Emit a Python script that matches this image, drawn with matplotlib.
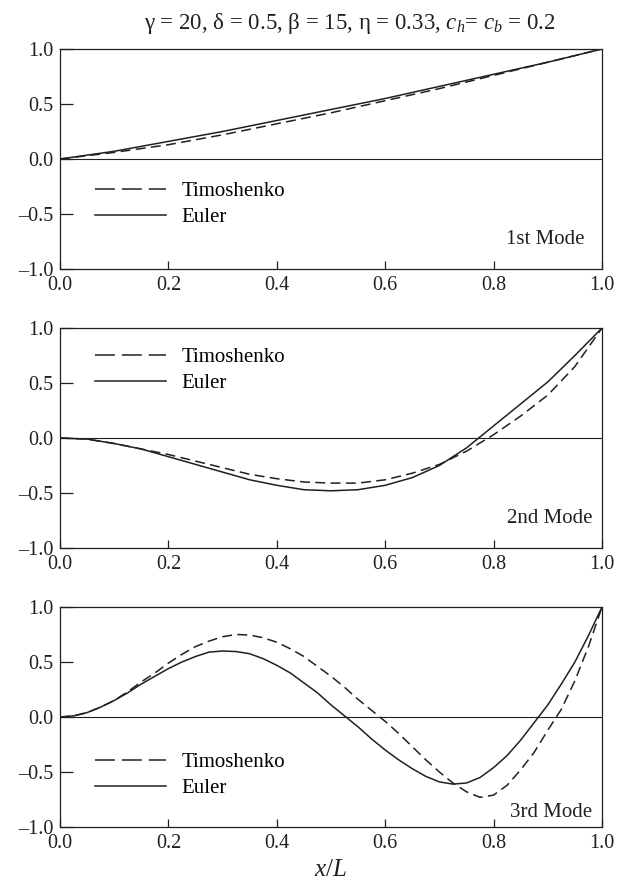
import matplotlib
matplotlib.use("Agg")
import matplotlib.pyplot as plt
from matplotlib.lines import Line2D

plt.rcParams['font.family'] = ['Liberation Serif', 'DejaVu Serif']
plt.rcParams['mathtext.fontset'] = 'custom'
plt.rcParams['mathtext.rm'] = 'Liberation Serif'
plt.rcParams['mathtext.it'] = 'Liberation Serif:italic'

# Mode 1
x1 = [0.0, 0.1, 0.2, 0.3, 0.4, 0.5, 0.6, 0.7, 0.8, 0.9, 1.0]
euler1 = [0.0, 0.07, 0.16, 0.25, 0.35, 0.45, 0.55, 0.66, 0.77, 0.88, 1.0]
timo1 = [0.0, 0.06, 0.13, 0.22, 0.32, 0.42, 0.53, 0.64, 0.76, 0.88, 1.0]

# Mode 2
x2 = [0.0, 0.05, 0.1, 0.15, 0.2, 0.25, 0.3, 0.35, 0.4, 0.45, 0.5, 0.55, 0.6, 0.65,
      0.7, 0.75, 0.8, 0.85, 0.9, 0.95, 1.0]
euler2 = [0.0, -0.01, -0.05, -0.10, -0.17, -0.24, -0.31, -0.38, -0.43, -0.47, -0.48,
          -0.47, -0.43, -0.36, -0.25, -0.09, 0.11, 0.31, 0.51, 0.75, 1.0]
timo2 = [0.0, -0.01, -0.05, -0.10, -0.15, -0.21, -0.27, -0.33, -0.37, -0.40, -0.41,
         -0.41, -0.38, -0.32, -0.24, -0.12, 0.03, 0.20, 0.39, 0.65, 1.0]

# Mode 3
x3 = [0.0, 0.025, 0.05, 0.075, 0.1, 0.125, 0.15, 0.175, 0.2, 0.225, 0.25, 0.275,
      0.3, 0.325, 0.35, 0.375, 0.4, 0.425, 0.45, 0.475, 0.5, 0.525, 0.55, 0.575,
      0.6, 0.625, 0.65, 0.675, 0.7, 0.725, 0.75, 0.775, 0.8, 0.825, 0.85, 0.875,
      0.9, 0.925, 0.95, 0.975, 1.0]
euler3 = [0.0, 0.01, 0.04, 0.09, 0.15, 0.22, 0.30, 0.37, 0.44, 0.50, 0.55, 0.59,
          0.60, 0.595, 0.575, 0.53, 0.47, 0.40, 0.31, 0.22, 0.11, 0.01, -0.09, -0.20,
          -0.30, -0.39, -0.47, -0.54, -0.59, -0.61, -0.60, -0.55, -0.46, -0.35, -0.21,
          -0.05, 0.11, 0.30, 0.50, 0.74, 1.0]
timo3 = [0.0, 0.01, 0.04, 0.09, 0.15, 0.23, 0.32, 0.40, 0.49, 0.57, 0.64, 0.69,
         0.73, 0.75, 0.745, 0.72, 0.68, 0.62, 0.55, 0.46, 0.37, 0.27, 0.16, 0.06,
         -0.04, -0.15, -0.27, -0.39, -0.50, -0.60, -0.68, -0.73, -0.71, -0.62, -0.48,
         -0.32, -0.12, 0.07, 0.33, 0.64, 1.0]

xticks = [0.0, 0.2, 0.4, 0.6, 0.8, 1.0]
xticklabels = ['0.0', '0.2', '0.4', '0.6', '0.8', '1.0']
yticks = [-1.0, -0.5, 0.0, 0.5, 1.0]
yticklabels = ['\u20131.0', '\u20130.5', '0.0', '0.5', '1.0']
series_names = ['Timoshenko', 'Euler']

# (x, timoshenko, euler, mode label, legend centre y, label x, label y)
panels = [
    (x1, timo1, euler1, '1st Mode', 0.295, 0.967, 0.132),
    (x2, timo2, euler2, '2nd Mode', 0.808, 0.983, 0.132),
    (x3, timo3, euler3, '3rd Mode', 0.235, 0.982, 0.068),
]

INK = '#231f20'
W, H = 618, 886
fig = plt.figure(figsize=(W / 100, H / 100), dpi=100)
tops = [49, 328, 607]
ph = 220
left, right = 60, 602

for (xs, tim, eul, label, legy, lx, ly), top in zip(panels, tops):
    ax = fig.add_axes([left / W, 1 - (top + ph) / H, (right - left) / W, ph / H])
    ax.plot(xs, tim, color=INK, lw=1.1, linestyle=(0, (6.5, 3.5)))
    ax.plot(xs, eul, color=INK, lw=1.1, linestyle='-')
    ax.axhline(0, color=INK, lw=0.8)
    ax.set_xlim(0, 1)
    ax.set_ylim(-1, 1)
    ax.set_xticks(xticks)
    ax.set_xticklabels(xticklabels)
    ax.set_yticks(yticks)
    ax.set_yticklabels(yticklabels)
    ax.tick_params(direction='in', width=0.9, labelsize=14.5, colors=INK,
                   top=False, right=False)
    ax.tick_params(axis='x', length=6, pad=5)
    ax.tick_params(axis='y', length=9.5, pad=4.5)
    for s in ax.spines.values():
        s.set_linewidth(0.9)
        s.set_color(INK)
    handles = [Line2D([], [], color=INK, lw=1.1, linestyle=(0, (13, 4.6))),
               Line2D([], [], color=INK, lw=1.1, linestyle='-')]
    ax.legend(handles, series_names, loc='center left', bbox_to_anchor=(0.065, legy),
              frameon=False, fontsize=15, handlelength=3.4, handletextpad=0.75,
              labelspacing=0.3, borderpad=0, borderaxespad=0)
    ax.text(lx, ly, label, transform=ax.transAxes, ha='right', va='center',
            fontsize=15, color=INK)

fig.text(350 / W, 1 - 24 / H,
         '\u03b3 = 20, \u03b4 = 0.5, \u03b2 = 15, \u03b7 = 0.33, $c_h$= $c_b$ = 0.2',
         ha='center', va='center', fontsize=16.5, color=INK)
fig.text((left + right) / 2 / W, 1 - 870 / H, '$x$/$L$', ha='center', va='center',
         fontsize=18, color=INK)

fig.savefig('out.png', dpi=100)
